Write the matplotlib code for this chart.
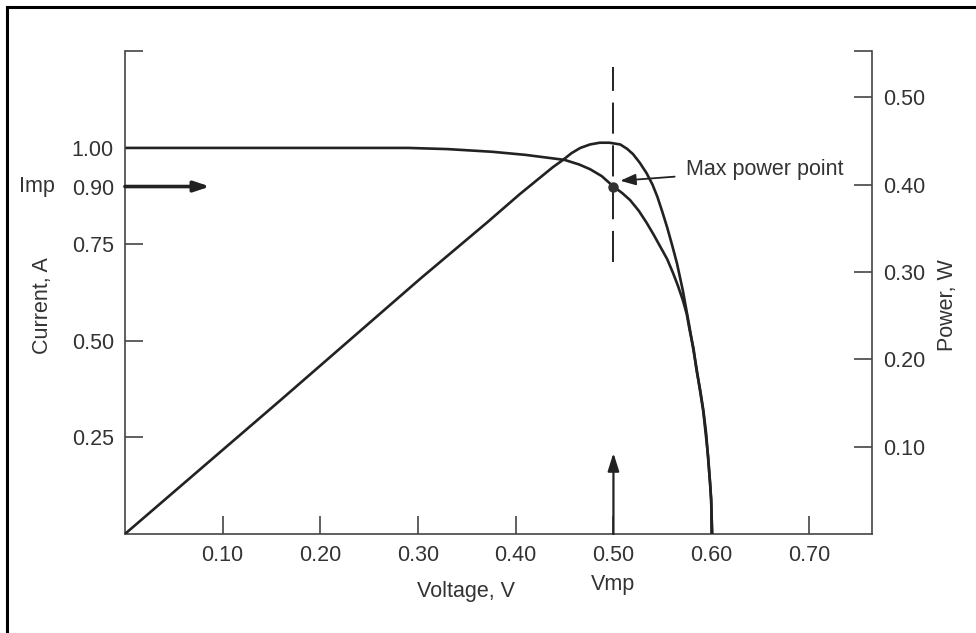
import matplotlib
matplotlib.use("Agg")
import matplotlib.pyplot as plt
from matplotlib.lines import Line2D

plt.rcParams["font.family"] = ["Liberation Sans", "DejaVu Sans"]
plt.rcParams["font.size"] = 15.5

# current-voltage curve
volt_i = [0.000, 0.290, 0.330, 0.376, 0.410, 0.450, 0.465, 0.476, 0.488, 0.500,
          0.509, 0.517, 0.526, 0.534, 0.541, 0.548, 0.555, 0.561, 0.566, 0.571,
          0.575, 0.578, 0.582, 0.585, 0.589, 0.592, 0.595, 0.597, 0.599, 0.600,
          0.601]
current = [1.000, 1.000, 0.997, 0.990, 0.982, 0.969, 0.957, 0.945, 0.927, 0.900,
           0.883, 0.865, 0.837, 0.806, 0.776, 0.744, 0.712, 0.676, 0.643, 0.606,
           0.570, 0.528, 0.480, 0.425, 0.370, 0.321, 0.258, 0.192, 0.130, 0.088,
           0.000]

# power-voltage curve
volt_p = [0.000, 0.159, 0.302, 0.371, 0.404, 0.438, 0.448, 0.457, 0.466, 0.476,
          0.486, 0.496, 0.507, 0.514, 0.520, 0.527, 0.534, 0.540, 0.545, 0.550,
          0.555, 0.560, 0.565, 0.571, 0.578, 0.585, 0.592, 0.597, 0.600, 0.601]
power = [0.000, 0.153, 0.292, 0.357, 0.389, 0.420, 0.428, 0.436, 0.442, 0.446,
         0.448, 0.448, 0.446, 0.441, 0.435, 0.425, 0.413, 0.400, 0.386, 0.369,
         0.351, 0.331, 0.310, 0.279, 0.236, 0.190, 0.140, 0.088, 0.040, 0.000]

vmp, imp = 0.50, 0.90
dash_span = [0.705, 1.21]      # current units
vmp_arrow_top = 0.21
imp_arrow_end = 0.087

x_ticks = [0.10, 0.20, 0.30, 0.40, 0.50, 0.60, 0.70]
i_ticks = [0.25, 0.50, 0.75, 0.90, 1.00]
p_ticks = [0.10, 0.20, 0.30, 0.40, 0.50]
x_max, i_max, p_max = 0.7646, 1.251, 0.553

ink = "#222222"
txt = "#333333"

fig = plt.figure(figsize=(9.76, 6.33), dpi=100)
ax = fig.add_axes([0.128, 0.1564, 0.7654, 0.763])
ax2 = ax.twinx()

ax.plot(volt_i, current, color=ink, lw=1.9, solid_joinstyle="round")
ax2.plot(volt_p, power, color=ink, lw=1.9, solid_joinstyle="round")

ax.set_xlim(0, x_max)
ax.set_ylim(0, i_max)
ax2.set_ylim(0, p_max)

for a in (ax, ax2):
    a.spines["top"].set_visible(False)
    for s in a.spines.values():
        s.set_color("#444444")
        s.set_linewidth(1.2)
    a.tick_params(direction="in", length=13, width=1.2, color="#444444",
                  labelcolor=txt, labelsize=15.5, pad=8)

ax.set_xticks(x_ticks)
ax.set_xticklabels([f"{v:.2f}" for v in x_ticks])
ax.set_yticks(i_ticks + [i_max])
ax.set_yticklabels([f"{v:.2f}" for v in i_ticks] + [""])
# no tick mark at Imp (the arrow stands there instead)
ax.yaxis.get_major_ticks()[i_ticks.index(imp)].tick1line.set_visible(False)
ax.spines["right"].set_visible(False)

ax2.set_yticks(p_ticks + [p_max])
ax2.set_yticklabels([f"{v:.2f}" for v in p_ticks] + [""])
ax2.spines["left"].set_visible(False)
ax2.spines["bottom"].set_visible(False)

# axis labels
fig.text(0.044, 0.518, "Current, A", rotation=90, ha="center", va="center",
         color=txt, fontsize=15.5)
fig.text(0.971, 0.518, "Power, W", rotation=90, ha="center", va="center",
         color=txt, fontsize=15.5)
fig.text(0.477, 0.066, "Voltage, V", ha="center", va="center", color=txt,
         fontsize=15.5)
ax.text(vmp, -0.13, "Vmp", ha="center", va="center", color=txt, fontsize=15.5)
ax.text(-0.094, imp, "Imp", ha="right", va="center", color=txt, fontsize=15.5,
        transform=ax.get_yaxis_transform())

# max power point marker, dashed line and arrows
ax.plot([vmp, vmp], dash_span, color=ink, lw=1.4, dashes=(16, 6))
ax.plot([vmp], [imp], "o", color="#333333", ms=6.5, zorder=5)
ax.annotate("", xy=(imp_arrow_end, imp), xytext=(0, imp),
            arrowprops=dict(arrowstyle="-|>,head_length=0.6,head_width=0.2",
                            color=ink, lw=2.6, shrinkA=0, shrinkB=0))
ax.annotate("", xy=(vmp, vmp_arrow_top), xytext=(vmp, 0),
            arrowprops=dict(arrowstyle="-|>,head_length=0.7,head_width=0.22",
                            color=ink, lw=1.6, shrinkA=0, shrinkB=0))
ax.annotate("Max power point", xy=(0.507, 0.915), xytext=(0.574, 0.943),
            ha="left", va="center", color=txt, fontsize=15.5,
            arrowprops=dict(arrowstyle="-|>,head_length=0.6,head_width=0.22",
                            color=ink, lw=1.3, shrinkA=6, shrinkB=0))

# left and top edges of the scanned frame
fig.add_artist(Line2D([0.0072, 0.0072], [0, 0.989], transform=fig.transFigure,
                      color="black", lw=2.2))
fig.add_artist(Line2D([0.0072, 1.0], [0.989, 0.989], transform=fig.transFigure,
                      color="black", lw=2.2))

fig.savefig("out.png", dpi=100)
